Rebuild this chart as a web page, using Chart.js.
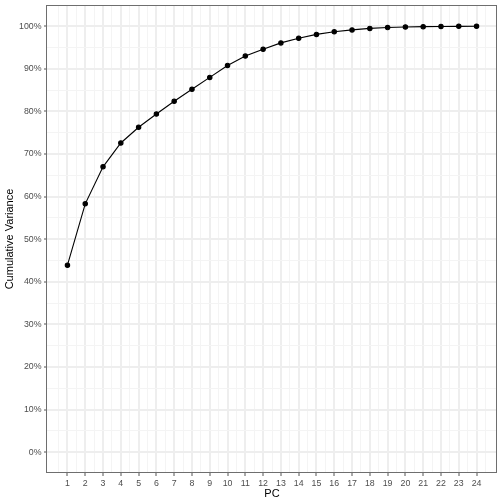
<!DOCTYPE html>
<html>
<head>
<meta charset="utf-8">
<script src="https://cdn.jsdelivr.net/npm/chart.js@4"></script>
<style>
html,body{margin:0;padding:0;background:#fff;}
canvas{display:block;}
</style>
</head>
<body>
<canvas id="c" width="504" height="504"></canvas>
<script>
const pcs = [1,2,3,4,5,6,7,8,9,10,11,12,13,14,15,16,17,18,19,20,21,22,23,24];
const cumVariance = [43.9,58.3,67.0,72.6,76.3,79.4,82.4,85.2,88.0,90.8,93.0,94.6,96.1,97.2,98.1,98.7,99.15,99.5,99.7,99.85,99.92,99.96,99.99,100];
const xTickValues = pcs;
const yTickValues = [0,10,20,30,40,50,60,70,80,90,100];

const FONT = '"Liberation Sans", Arial, Helvetica, sans-serif';

const xGrid = [];
for (let v = 0.5; v <= 24.5; v += 0.5) xGrid.push(v);
const yGrid = [];
for (let v = 0; v <= 100; v += 5) yGrid.push(v);

const borderPlugin = {
  id: 'panelBorder',
  afterDatasetsDraw(chart) {
    const a = chart.chartArea, ctx = chart.ctx;
    ctx.save();
    ctx.strokeStyle = '#6e6e6e';
    ctx.lineWidth = 1;
    ctx.strokeRect(Math.round(a.left) - 0.5, Math.round(a.top) + 0.5, Math.round(a.right - a.left), Math.round(a.bottom - a.top) - 1);
    ctx.restore();
  }
};

function noPad(s) {
  s.paddingTop = 0; s.paddingBottom = 0; s.paddingLeft = 0; s.paddingRight = 0;
}

new Chart(document.getElementById('c'), {
  type: 'line',
  data: {
    datasets: [{
      data: pcs.map((p, i) => ({x: p, y: cumVariance[i]})),
      borderColor: '#000000',
      backgroundColor: '#000000',
      borderWidth: 1.1,
      pointRadius: 2.2,
      pointHoverRadius: 2.2,
      tension: 0,
      fill: false
    }]
  },
  options: {
    responsive: false,
    animation: false,
    events: [],
    layout: {padding: {top: 5, right: 7, left: 0, bottom: 0}},
    plugins: {legend: {display: false}, tooltip: {enabled: false}},
    scales: {
      x: {
        type: 'linear',
        min: -0.15,
        max: 25.15,
        afterBuildTicks(s) { s.ticks = xGrid.map(v => ({value: v})); },
        afterFit(s) { s.height = 31; noPad(s); },
        border: {display: false},
        grid: {
          color: c => Number.isInteger(c.tick.value) ? '#EEEEEE' : '#F4F4F4',
          lineWidth: c => Number.isInteger(c.tick.value) ? 2 : 1,
          tickLength: 3,
          tickColor: c => Number.isInteger(c.tick.value) ? '#555555' : 'rgba(0,0,0,0)',
          tickWidth: 1
        },
        ticks: {
          autoSkip: false,
          maxRotation: 0,
          padding: 2,
          color: '#4D4D4D',
          font: {family: FONT, size: 8.8},
          callback: v => (Number.isInteger(v) && xTickValues.includes(v)) ? String(v) : ''
        },
        title: {
          display: true,
          text: 'PC',
          color: '#000000',
          font: {family: FONT, size: 11},
          padding: {top: 0, bottom: 3.4}
        }
      },
      y: {
        type: 'linear',
        min: -4.9,
        max: 105,
        afterBuildTicks(s) { s.ticks = yGrid.map(v => ({value: v})); },
        afterFit(s) { s.width = 47; noPad(s); },
        border: {display: false},
        grid: {
          color: c => (c.tick.value % 10 === 0) ? '#EEEEEE' : '#F4F4F4',
          lineWidth: c => (c.tick.value % 10 === 0) ? 2 : 1,
          tickLength: 3,
          tickColor: c => (c.tick.value % 10 === 0) ? '#555555' : 'rgba(0,0,0,0)',
          tickWidth: 1
        },
        ticks: {
          autoSkip: false,
          padding: 2.5,
          color: '#4D4D4D',
          font: {family: FONT, size: 8.8},
          callback: v => yTickValues.includes(v) ? v + '%' : ''
        },
        title: {
          display: true,
          text: 'Cumulative Variance',
          color: '#000000',
          font: {family: FONT, size: 11},
          padding: {top: 3.4, bottom: 0}
        }
      }
    }
  },
  plugins: [borderPlugin]
});
</script>
</body>
</html>
